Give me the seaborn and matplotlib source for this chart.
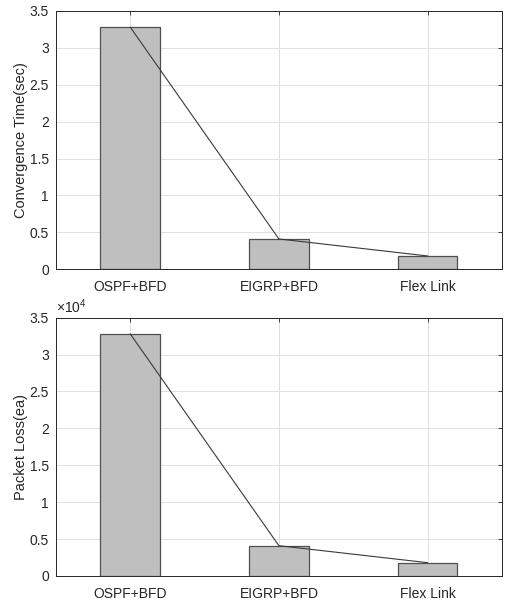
import numpy as np
import pandas as pd
import matplotlib
matplotlib.use('Agg')
import matplotlib.pyplot as plt
import matplotlib.ticker as mticker
import seaborn as sns

schemes = ['OSPF+BFD', 'EIGRP+BFD', 'Flex Link']
conv_time = [3.28, 0.41, 0.18]
pkt_loss = [32800, 4100, 1800]

sns.set_style('white')
plt.rcParams['font.family'] = ['Liberation Sans', 'DejaVu Sans']
plt.rcParams['mathtext.fontset'] = 'custom'
plt.rcParams['mathtext.rm'] = 'Liberation Sans'

fig = plt.figure(figsize=(5.08, 6.05), dpi=100)
ax1 = fig.add_axes([0.110, 0.555, 0.878, 0.427])
ax2 = fig.add_axes([0.110, 0.048, 0.878, 0.427])


def style(ax, vals, ymax, step, ylabel, fmt):
    df = pd.DataFrame({'scheme': schemes, 'val': vals})
    sns.barplot(data=df, x='scheme', y='val', order=schemes, color='#bfbfbf',
                saturation=1, width=0.4, edgecolor='#505050', linewidth=0.9, ax=ax)
    ax.plot(np.arange(len(schemes)), vals, color='#3a3a3a', lw=0.8, zorder=3)
    ax.set_xlim(-0.5, 2.5)
    ax.set_ylim(0, ymax)
    ax.set_yticks(np.arange(0, ymax + step / 2, step))
    ax.yaxis.set_major_formatter(mticker.FuncFormatter(fmt))
    ax.set_axisbelow(True)
    ax.grid(True, color='#e0e0e0', lw=0.7)
    ax.tick_params(direction='in', length=3, width=0.6, colors='#262626',
                   labelsize=10, top=True, right=True, pad=5)
    ax.tick_params(axis='x', pad=8)
    for s in ax.spines.values():
        s.set_color('#262626')
        s.set_linewidth(0.7)
    ax.set_xlabel('')
    ax.set_ylabel(ylabel, fontsize=10.5, color='#262626', labelpad=1)


style(ax1, conv_time, 3.5, 0.5, 'Convergence Time(sec)', lambda v, p: f'{v:g}')
style(ax2, pkt_loss, 35000, 5000, 'Packet Loss(ea)', lambda v, p: f'{v / 1e4:g}')
ax2.text(0.0, 1.005, r'$\times10^4$', transform=ax2.transAxes, fontsize=10,
         color='#262626', ha='left', va='bottom')

fig.savefig('out.png', dpi=100)
